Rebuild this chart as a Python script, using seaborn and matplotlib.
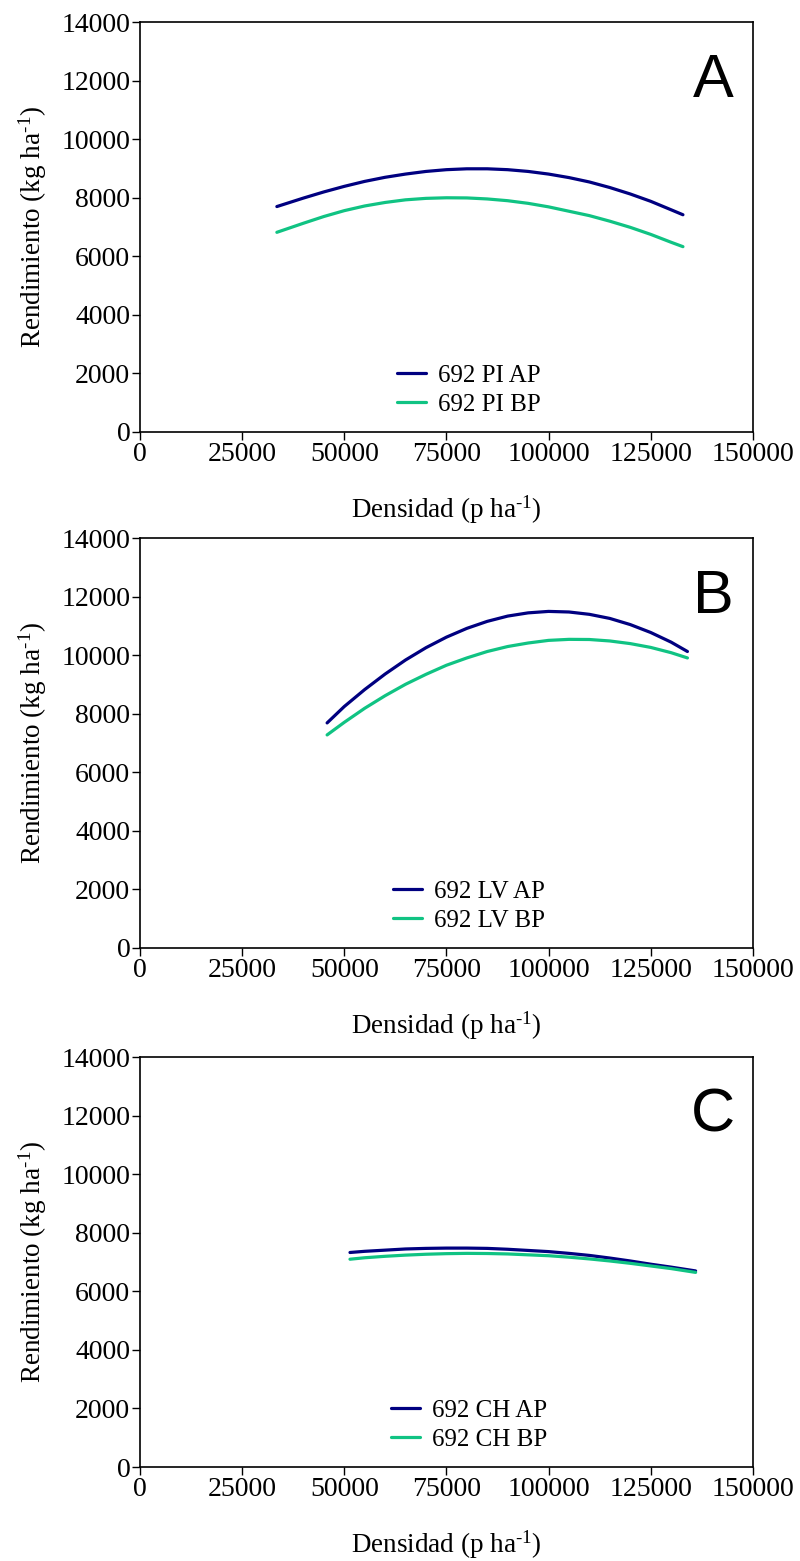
import pandas as pd
import seaborn as sns
import numpy as np
import matplotlib.pyplot as plt

# Panel A (PI)
dens_a = [33500, 40000, 45000, 50000, 55000, 60000, 65000, 70000, 75000, 80000, 85000,
          90000, 95000, 100000, 105000, 110000, 115000, 120000, 125000, 130000, 132900]
pi_ap = [7700, 7990, 8200, 8390, 8560, 8700, 8810, 8900, 8960, 8990, 8990,
         8960, 8900, 8810, 8690, 8540, 8350, 8130, 7880, 7590, 7420]
pi_bp = [6820, 7130, 7360, 7560, 7720, 7840, 7930, 7980, 8000, 7995, 7960,
         7900, 7810, 7690, 7540, 7390, 7200, 6990, 6750, 6480, 6330]

# Panel B (LV)
dens_b = [45800, 50000, 55000, 60000, 65000, 70000, 75000, 80000, 85000, 90000,
          95000, 100000, 105000, 110000, 115000, 120000, 125000, 130000, 134000]
lv_ap = [7690, 8250, 8830, 9360, 9840, 10260, 10620, 10920, 11160, 11340,
         11450, 11500, 11480, 11400, 11260, 11050, 10780, 10450, 10130]
lv_bp = [7280, 7710, 8190, 8620, 9010, 9350, 9660, 9910, 10130, 10300,
         10420, 10510, 10545, 10540, 10490, 10400, 10270, 10090, 9910]

# Panel C (CH)
dens_c = [51400, 55000, 60000, 65000, 70000, 75000, 80000, 85000, 90000, 95000,
          100000, 105000, 110000, 115000, 120000, 125000, 130000, 136000]
ch_ap = [7330, 7370, 7410, 7450, 7470, 7480, 7480, 7470, 7440, 7400,
         7360, 7300, 7230, 7140, 7040, 6930, 6830, 6700]
ch_bp = [7100, 7150, 7200, 7240, 7270, 7290, 7300, 7295, 7280, 7250,
         7220, 7170, 7110, 7040, 6960, 6870, 6780, 6650]

x_ticks = [0, 25000, 50000, 75000, 100000, 125000, 150000]
y_ticks = [0, 2000, 4000, 6000, 8000, 10000, 12000, 14000]

panels = [
    ("A", "PI", dens_a, pi_ap, pi_bp),
    ("B", "LV", dens_b, lv_ap, lv_bp),
    ("C", "CH", dens_c, ch_ap, ch_bp),
]

sns.set_theme(style="ticks")
plt.rcParams['font.family'] = ['Liberation Serif', 'DejaVu Serif']
plt.rcParams['mathtext.fontset'] = 'custom'
plt.rcParams['mathtext.rm'] = 'Liberation Serif'
plt.rcParams['mathtext.it'] = 'Liberation Serif:italic'
for key in ['text.color', 'axes.labelcolor', 'xtick.color', 'ytick.color', 'axes.edgecolor']:
    plt.rcParams[key] = 'black'

fig = plt.figure(figsize=(8, 15.61), dpi=100)
bottoms = [0.7233, 0.3927, 0.0602]

for (letter, site, dens, ap, bp), bottom in zip(panels, bottoms):
    ax = fig.add_axes([0.175, bottom, 0.766, 0.2625])
    df = pd.DataFrame({
        "dens": dens + dens,
        "rend": ap + bp,
        "serie": [f"692 {site} AP"] * len(dens) + [f"692 {site} BP"] * len(dens),
    })
    sns.lineplot(
        data=df, x="dens", y="rend", hue="serie",
        palette=["#000080", "#10C383"], linewidth=2.3, ax=ax
    )
    ax.set_xlim(0, 150000)
    ax.set_ylim(0, 14000)
    ax.set_xticks(x_ticks)
    ax.set_yticks(y_ticks)
    ax.tick_params(labelsize=20, length=6, width=1, direction='out', pad=1)
    for s in ax.spines.values():
        s.set_linewidth(1.2)
    ax.set_xlabel(r"Densidad (p ha$^{\text{-1}}$)", fontsize=19.5, labelpad=19)
    ax.set_ylabel(r"Rendimiento (kg ha$^{\text{-1}}$)", fontsize=19.5, labelpad=9)
    ax.text(0.935, 0.856, letter, transform=ax.transAxes, fontsize=44,
            family='Liberation Sans', ha='center', va='center')
    ax.legend(loc='lower center', bbox_to_anchor=(0.537, -0.015), frameon=False,
              fontsize=18, handlelength=1.15, handletextpad=0.5,
              labelspacing=0.25, title=None)

fig.savefig("out.png", dpi=100)
